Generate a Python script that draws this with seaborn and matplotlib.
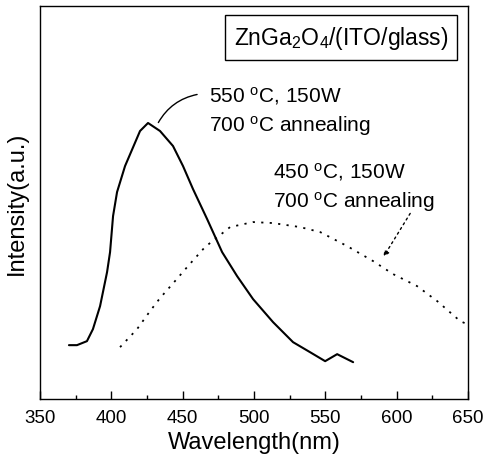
import numpy as np
import pandas as pd
import matplotlib
matplotlib.use('Agg')
import matplotlib.pyplot as plt
from matplotlib.ticker import MultipleLocator, NullLocator
import seaborn as sns

# 550 C, 150W sample (solid)
wl_550 = [370.3, 375.9, 382.9, 387.1, 392.1, 397.0, 399.1, 401.2, 404.0, 409.6,
          420.1, 425.7, 434.1, 443.2, 450.2, 457.2, 467.1, 477.6, 488.1, 499.3,
          513.3, 527.3, 539.2, 549.8, 558.2, 569.4]
int_550 = [54, 54, 58, 70, 93, 127, 147, 183, 207, 233,
           268, 276, 268, 253, 233, 210, 180, 147, 123, 100,
           77, 57, 47, 38, 45, 37]

# 450 C, 150W sample (dotted)
wl_450 = [406.1, 418.0, 427.1, 434.1, 444.6, 453.7, 465.6, 483.2, 499.3, 513.3,
          532.2, 546.3, 565.2, 583.4, 597.4, 614.2, 628.3, 644.4, 649.3]
int_450 = [52, 70, 88, 101, 118, 133, 152, 172, 177, 176,
           172, 167, 153, 138, 125, 113, 98, 78, 75]

xticks = [350, 400, 450, 500, 550, 600, 650]

sns.set_style("ticks")
plt.rcParams['font.family'] = ['Liberation Sans', 'DejaVu Sans']
plt.rcParams['mathtext.fontset'] = 'custom'
plt.rcParams['mathtext.rm'] = 'Liberation Sans'
plt.rcParams['mathtext.it'] = 'Liberation Sans'
plt.rcParams['text.color'] = 'black'
plt.rcParams['axes.labelcolor'] = 'black'
plt.rcParams['xtick.color'] = 'black'

fig = plt.figure(figsize=(4.84, 4.60), dpi=100)
ax = fig.add_axes([0.0826, 0.130, 0.8847, 0.855])

df1 = pd.DataFrame({'wl': wl_550, 'I': int_550})
df2 = pd.DataFrame({'wl': wl_450, 'I': int_450})
sns.lineplot(data=df1, x='wl', y='I', ax=ax, color='black', lw=1.5)
sns.lineplot(data=df2, x='wl', y='I', ax=ax, color='black', lw=1.3,
             linestyle=(0, (1.2, 3.5)))

ax.set_xlim(350, 650)
ax.set_ylim(0, 393)
ax.set_xticks(xticks)
ax.xaxis.set_minor_locator(MultipleLocator(25))
ax.yaxis.set_major_locator(NullLocator())
ax.tick_params(axis='x', which='major', direction='in', length=6, width=1,
               labelsize=13.5, pad=7)
ax.tick_params(axis='x', which='minor', direction='in', length=3, width=1)
for s in ax.spines.values():
    s.set_linewidth(1.0)
    s.set_color('black')

ax.set_xlabel('Wavelength(nm)', fontsize=17, labelpad=4)
ax.set_ylabel('Intensity(a.u.)', fontsize=17, labelpad=8.5)

ax.text(0.703, 0.92, r'ZnGa$_2$O$_4$/(ITO/glass)', transform=ax.transAxes,
        ha='center', va='center', fontsize=16.5,
        bbox=dict(boxstyle='square,pad=0.38', fc='white', ec='black', lw=1))

ax.text(468.5, 298, r'550 $^{\rm o}$C, 150W', fontsize=15, va='baseline')
ax.text(468.5, 268, r'700 $^{\rm o}$C annealing', fontsize=15, va='baseline')
ax.text(513.3, 222, r'450 $^{\rm o}$C, 150W', fontsize=15, va='baseline')
ax.text(513.3, 192, r'700 $^{\rm o}$C annealing', fontsize=15, va='baseline')

ax.annotate('', xy=(432, 274), xytext=(462, 305),
            arrowprops=dict(arrowstyle='-', color='black', lw=1,
                            connectionstyle='arc3,rad=0.25'))
ax.annotate('', xy=(589.7, 140), xytext=(610.4, 188),
            arrowprops=dict(arrowstyle='-|>', color='black', lw=1,
                            linestyle=(0, (1.5, 2.5)), mutation_scale=8))

fig.savefig('out.png', dpi=100)
